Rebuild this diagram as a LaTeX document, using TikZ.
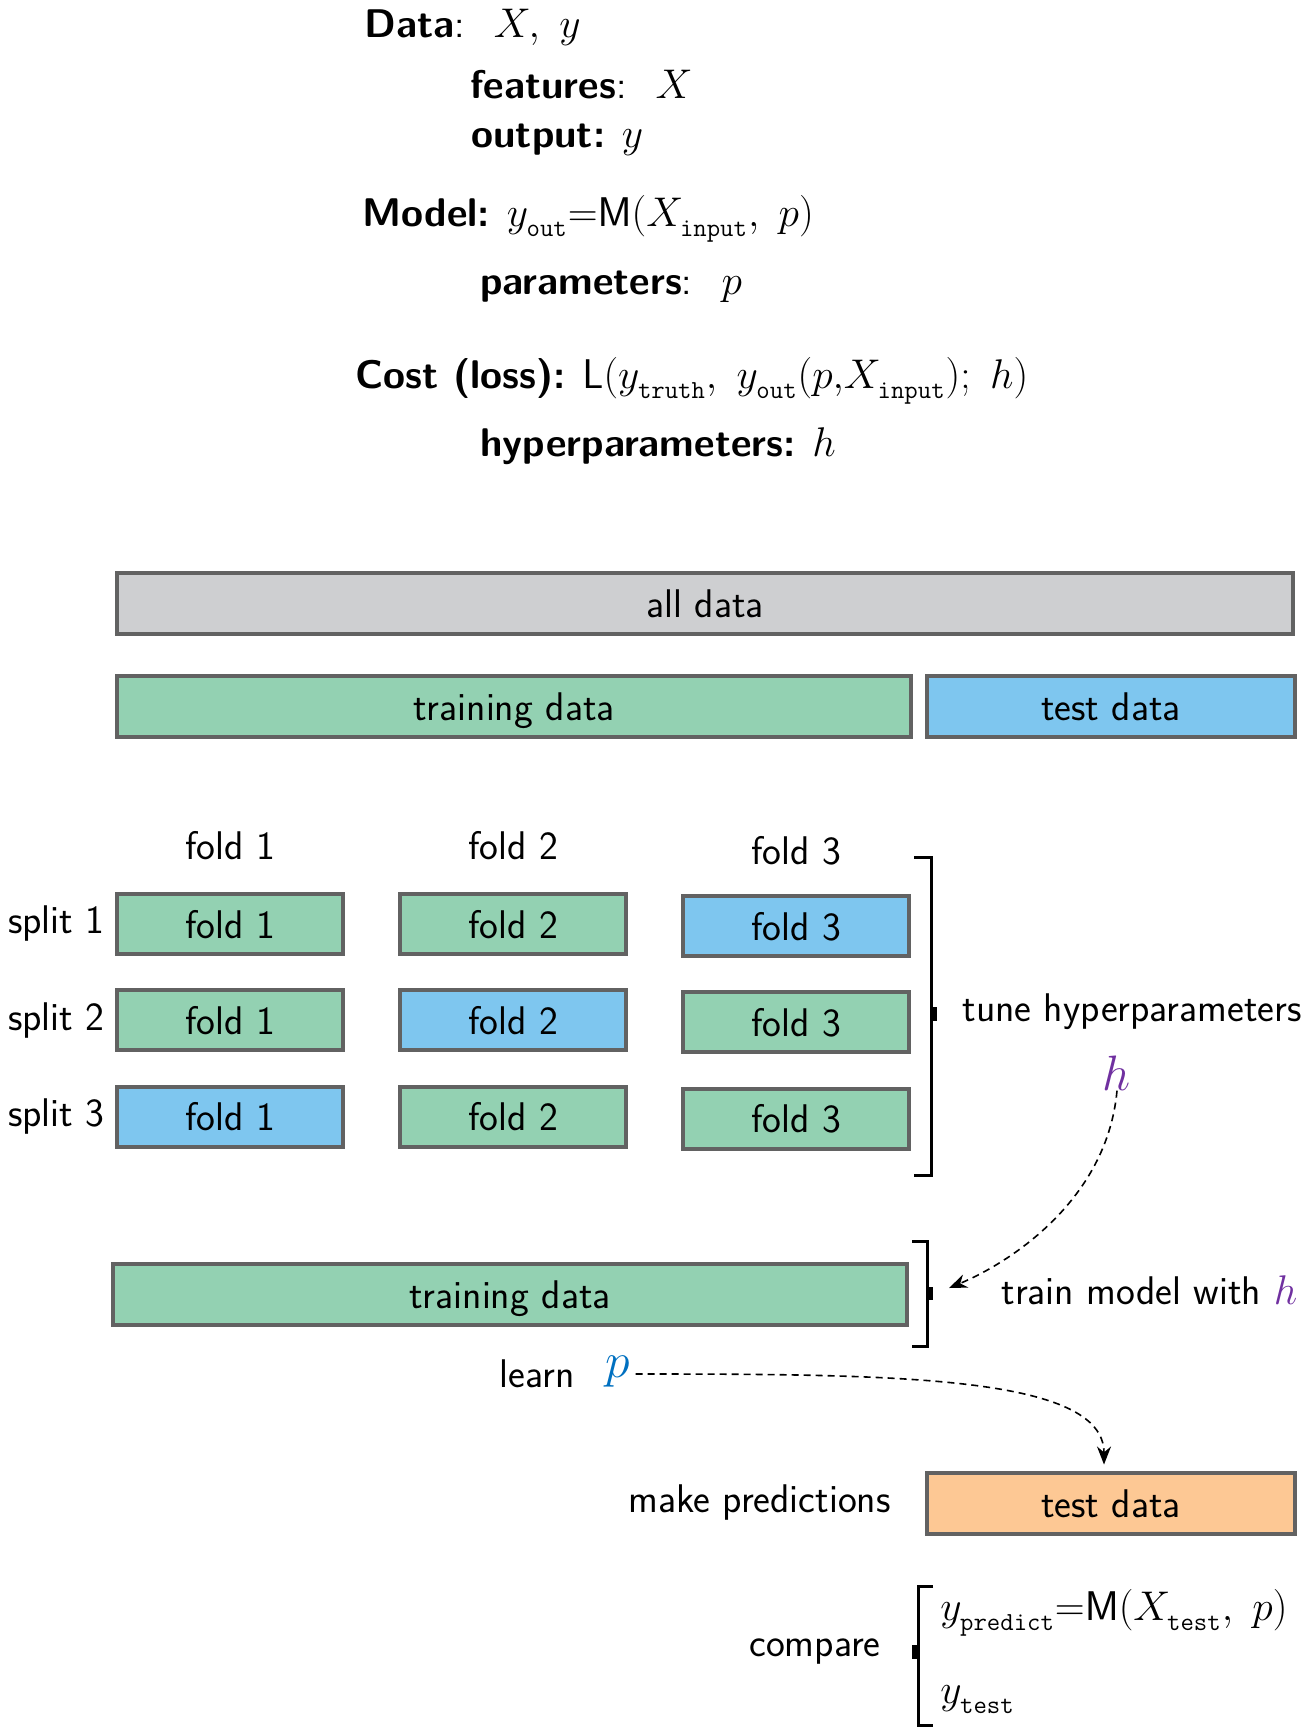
\documentclass[tikz,border=0pt]{standalone}
\usetikzlibrary{positioning, arrows.meta}
\definecolor{trainGreen}{RGB}{147,209,178}
\definecolor{testBlue}{RGB}{126,198,239}
\definecolor{allGray}{RGB}{206,207,209}
\definecolor{predOrange}{RGB}{253,200,148}
\definecolor{edgeGray}{RGB}{98,98,98}
\definecolor{hPurple}{RGB}{112,48,160}
\definecolor{pBlue}{RGB}{0,112,192}
\newcommand{\bigfont}{\sffamily\fontsize{20}{24}\selectfont}
\newcommand{\tsub}[1]{\raisebox{-2pt}{\fontsize{13}{15}\selectfont\ttfamily #1}}
\tikzset{
  txt/.style={inner sep=0pt, font=\bigfont},
  databox/.style={draw=edgeGray, line width=2pt, minimum height=30.5pt,
    inner sep=0pt, text height=16pt, text depth=2pt, font=\bigfont},
  foldbox/.style={databox, minimum width=113pt, minimum height=30pt},
  bracket/.style={line width=1.5pt},
  flowarrow/.style={-{Stealth[length=9pt, width=7pt]}, line width=0.8pt,
    dash pattern=on 3.5pt off 2.5pt},
}

\begin{document}
\begin{tikzpicture}[x=0.5pt, y=-0.5pt]
  \useasboundingbox (0,0) rectangle (1310,1730);

  % definitions
  \node[txt, anchor=base west] (dataLine) at (364,37) {\textbf{Data}: \ $X,\ y$};
  \node[txt, anchor=base west] (featLine) at (470,98) {\textbf{features}: \ $X$};
  \node[txt, anchor=base west] (outLine) at (471,147) {\textbf{output:} $y$};
  \node[txt, anchor=base west] (modelLine) at (362,226)
    {\textbf{Model:} $y_{\tsub{out}}{=}\mathsf{M}(X_{\tsub{input}},\ p)$};
  \node[txt, anchor=base west] (parLine) at (480,294) {\textbf{parameters}: \ $p$};
  \node[txt, anchor=base west] (costLine) at (355,388)
    {\textbf{Cost (loss):} $\mathsf{L}(y_{\tsub{truth}},\ y_{\tsub{out}}(p{,}X_{\tsub{input}});\ h)$};
  \node[txt, anchor=base west] (hypLine) at (480,456) {\textbf{hyperparameters:} $h$};

  % data split
  \node[databox, fill=allGray, minimum width=588pt] (allData) at (705,603.5) {all data};
  \node[databox, fill=trainGreen, minimum width=397pt] (trainData) at (514,706.5) {training data};
  \node[databox, fill=testBlue, minimum width=184pt] (testData) at (1111,706) {test data};

  % folds
  \foreach \c/\hy in {1/846, 2/846, 3/851}
    \node[txt] (foldHead\c) at ({230+(\c-1)*283},\hy) {fold \c};
  \foreach \r in {1,2,3} {
    \foreach \c in {1,2,3} {
      \pgfmathtruncatemacro\rc{\r+\c}
      \ifnum\rc=4 \def\fc{testBlue}\else \def\fc{trainGreen}\fi
      \pgfmathsetmacro\fx{230+(\c-1)*283}
      \pgfmathsetmacro\fy{924+(\r-1)*96.3+(\c==3)*2}
      \node[foldbox, fill=\fc] (f\r\c) at (\fx,\fy) {fold \c};
    }
    \node[txt, left=5pt of f\r1] (split\r) {split \r};
  }
  \draw[bracket] (914,857) -| (931,1175) -- (914,1175);
  \fill (930,1007) rectangle (937,1021);
  \node[txt, anchor=west] (tuneText) at (962,1012) {tune hyperparameters};
  \node[txt, text=hPurple, font=\fontsize{28}{32}\selectfont] (hTune) at (1117,1073) {$h$};

  % training
  \node[databox, fill=trainGreen, minimum width=397pt] (trainBox) at (510,1294.5) {training data};
  \draw[bracket] (912,1241) -| (927,1346) -- (912,1346);
  \fill (926,1287) rectangle (933,1300);
  \coordinate (trainTip) at (949,1288);
  \node[txt, anchor=west] (trainText) at (1001,1290) {train model with \textcolor{hPurple}{$h$}};
  \draw[flowarrow] (hTune.south) .. controls +(-10,110) and +(60,-25) .. (trainTip);

  % learning and prediction
  \node[txt] (learnText) at (537,1374) {learn};
  \node[txt, text=pBlue, font=\fontsize{28}{32}\selectfont] (pLearn) at (618,1372) {$p$};
  \node[databox, fill=predOrange, minimum width=184pt] (predBox) at (1111,1503) {test data};
  \node[txt, left=17pt of predBox] (predText) {make predictions};
  \draw[flowarrow, shorten >=3pt] (pLearn.east) ++(5,2)
    .. controls +(260,0) and +(0,-95) .. ([xshift=-3.5pt]predBox.north);

  % comparison
  \draw[bracket] (933,1586) -| (918,1725) -- (933,1725);
  \fill (912,1645) rectangle (919,1659);
  \node[txt, anchor=east] (compareText) at (881,1652) {compare};
  \node[txt, anchor=west] (predictEq) at (940,1613)
    {$y_{\tsub{predict}}{=}\mathsf{M}(X_{\tsub{test}},\ p)$};
  \node[txt, anchor=west] (testEq) at (940,1700) {$y_{\tsub{test}}$};
\end{tikzpicture}
\end{document}
